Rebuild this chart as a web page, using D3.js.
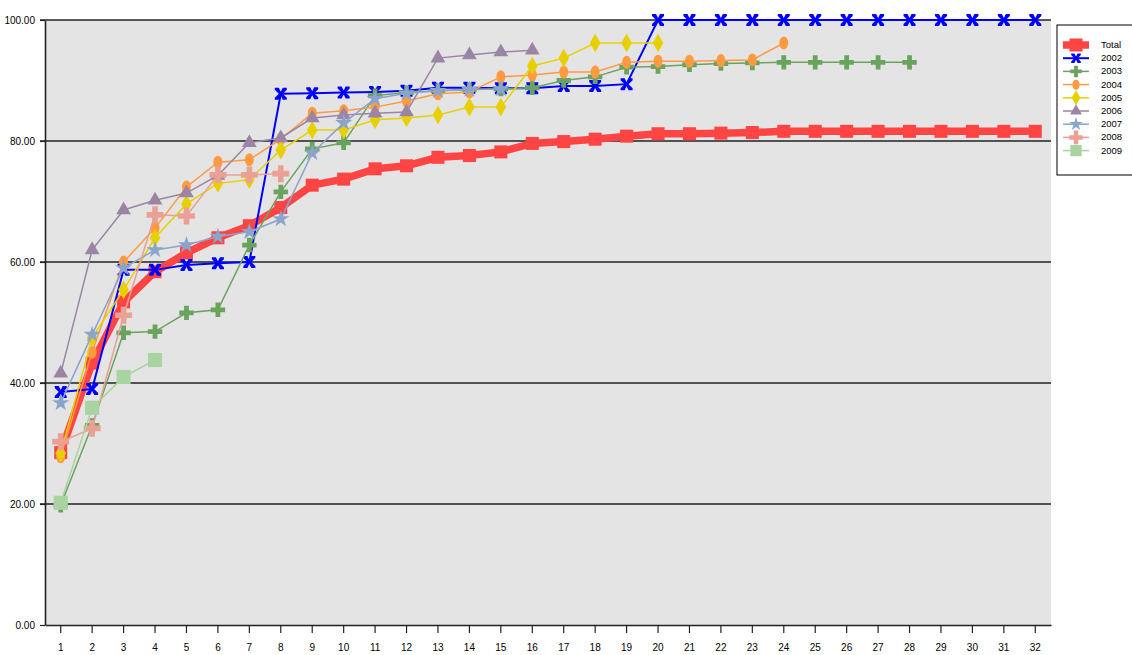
<!DOCTYPE html>
<html>
<head>
<meta charset="utf-8">
<script src="https://cdn.jsdelivr.net/npm/d3@7"></script>
<style>
  body { margin: 0; background: #fff; }
  text { font-family: "Liberation Sans Narrow", "Arial Narrow", "Liberation Sans", sans-serif; fill: #000; }
  .grid line { stroke: #222; stroke-width: 1.6px; }
</style>
</head>
<body>
<svg width="1132" height="655"></svg>
<script>
var categories = d3.range(1, 33)
var yTicks = [0, 20, 40, 60, 80, 100]

var total = [28.5, 43.3, 53.4, 58.4, 61.5, 64, 66, 69, 72.7, 73.7, 75.4, 75.9, 77.3, 77.6, 78.2, 79.6,
  79.9, 80.3, 80.8, 81.2, 81.2, 81.3, 81.4, 81.6, 81.6, 81.6, 81.6, 81.6, 81.6, 81.6, 81.6, 81.6]
var y2002 = [38.5, 39, 58.7, 58.7, 59.5, 59.8, 60, 87.8, 87.9, 88, 88.1, 88.3, 88.8, 88.8, 88.7, 88.7,
  89.1, 89.1, 89.4, 100, 100, 100, 100, 100, 100, 100, 100, 100, 100, 100, 100, 100]
var y2003 = [19.8, 33, 48.3, 48.5, 51.6, 52.1, 62.8, 71.6, 78.7, 79.7, 87.5, 88, 88.3, 88.5, 88.6, 88.8,
  90, 90.6, 92.2, 92.3, 92.6, 92.8, 92.9, 93, 93, 93, 93, 93]
var y2004 = [27.8, 45.1, 60, 65.6, 72.4, 76.5, 76.9, 80.3, 84.6, 85, 85.6, 86.6, 87.8, 88.1, 90.6, 90.9,
  91.4, 91.4, 93, 93.2, 93.2, 93.3, 93.4, 96.2]
var y2005 = [28.4, 47.5, 55.4, 64, 69.6, 73, 73.6, 78.5, 81.8, 81.8, 83.5, 83.8, 84.3, 85.6, 85.6, 92.4,
  93.7, 96.2, 96.2, 96.2]
var y2006 = [41.6, 62, 68.6, 70.2, 71.4, 74.3, 79.7, 80.5, 83.8, 84.3, 84.6, 84.8, 93.7, 94.2, 94.7, 95]
var y2007 = [36.7, 48, 59, 62, 62.8, 64.2, 65, 67.1, 78, 83, 87, 87.9, 88.3, 88.5, 88.6]
var y2008 = [30.3, 32.5, 51.2, 67.8, 67.6, 74.4, 74.4, 74.6]
var y2009 = [20.2, 35.9, 41, 43.8]

var series = [
  { name: 'Total', values: total, color: '#ff4444', width: 7.5, symbol: d3.symbolSquare, size: 170 },
  { name: '2002', values: y2002, color: '#0000ff', width: 2, symbol: 'x', size: 110 },
  { name: '2003', values: y2003, color: '#6aa35e', width: 1.5, symbol: d3.symbolCross, size: 115 },
  { name: '2004', values: y2004, color: '#ff9a40', width: 1.5, symbol: 'ellipse', size: 0 },
  { name: '2005', values: y2005, color: '#e8d000', width: 1.5, symbol: d3.symbolDiamond, size: 100 },
  { name: '2006', values: y2006, color: '#9a86a4', width: 1.5, symbol: d3.symbolTriangle, size: 95 },
  { name: '2007', values: y2007, color: '#8aa4cc', width: 1.5, symbol: d3.symbolStar, size: 90 },
  { name: '2008', values: y2008, color: '#eaa094', width: 1.5, symbol: d3.symbolCross, size: 160 },
  { name: '2009', values: y2009, color: '#a9d3a0', width: 1.5, symbol: d3.symbolSquare, size: 200 }
]

var svg = d3.select('svg')
var plotLeft = 45, plotRight = 1051, plotTop = 20, plotBottom = 625

var x = d3.scaleBand().domain(categories).range([plotLeft, plotRight])
var y = d3.scaleLinear().domain([0, 100]).range([plotBottom, plotTop])

// plot background
svg.append('rect')
  .attr('x', plotLeft).attr('y', plotTop)
  .attr('width', plotRight - plotLeft).attr('height', plotBottom - plotTop)
  .attr('fill', '#e4e4e4')

// gridlines
svg.append('g').attr('class', 'grid')
  .selectAll('line')
  .data(yTicks.filter(function(d) { return d > 0 }))
  .enter().append('line')
  .attr('x1', plotLeft - 5).attr('x2', plotRight)
  .attr('y1', function(d) { return y(d) })
  .attr('y2', function(d) { return y(d) })

// axes
var yAxis = d3.axisLeft(y).tickValues(yTicks).tickSize(5).tickSizeOuter(0).tickPadding(5)
  .tickFormat(function(d) { return d3.format('.2f')(d) })
var gy = svg.append('g').attr('transform', 'translate(' + plotLeft + ',0)').call(yAxis)
gy.selectAll('text').attr('font-size', 10)

var xAxis = d3.axisBottom(x).tickSize(8).tickSizeOuter(0).tickPadding(11)
var gx = svg.append('g').attr('transform', 'translate(0,' + plotBottom + ')').call(xAxis)
gx.selectAll('text').attr('font-size', 10)

svg.selectAll('.domain').attr('stroke', '#222').attr('stroke-width', 1.6)
svg.selectAll('.tick line').attr('stroke', '#222').attr('stroke-width', 1.2)

function markerPath(s) {
  if (s.symbol === 'x') {
    // bow-tie cross like the Excel marker
    return 'M-6,-6 L-2,-6 L0,-2 L2,-6 L6,-6 L6,-4 L2,0 L6,4 L6,6 L2,6 L0,2 L-2,6 L-6,6 L-6,4 L-2,0 L-6,-4 Z'
  }
  if (s.symbol === 'ellipse') {
    return 'M0,-6.5 A4.5,6.5 0 1,1 0,6.5 A4.5,6.5 0 1,1 0,-6.5 Z'
  }
  return d3.symbol().type(s.symbol).size(s.size)()
}

var line = d3.line()
  .x(function(d, i) { return x(categories[i]) + x.bandwidth() / 2 })
  .y(function(d) { return y(d) })

var gSeries = svg.append('g').selectAll('g')
  .data(series)
  .enter().append('g')

gSeries.append('path')
  .attr('fill', 'none')
  .attr('stroke', function(s) { return s.color })
  .attr('stroke-width', function(s) { return s.width })
  .attr('d', function(s) { return line(s.values) })

gSeries.each(function(s) {
  d3.select(this).selectAll('path.mark')
    .data(s.values)
    .enter().append('path')
    .attr('class', 'mark')
    .attr('d', markerPath(s))
    .attr('fill', s.color)
    .attr('transform', function(d, i) {
      return 'translate(' + (x(categories[i]) + x.bandwidth() / 2) + ',' + y(d) + ')'
    })
})

// legend
var lg = svg.append('g').attr('transform', 'translate(1057,25)')
lg.append('rect')
  .attr('x', 0).attr('y', 0)
  .attr('width', 80).attr('height', 150)
  .attr('fill', '#fff').attr('stroke', '#000').attr('stroke-width', 1)

var item = lg.selectAll('g.item')
  .data(series)
  .enter().append('g')
  .attr('class', 'item')
  .attr('transform', function(s, i) { return 'translate(0,' + (20 + i * 13.2) + ')' })

item.append('line')
  .attr('x1', 6).attr('x2', 32)
  .attr('stroke', function(s) { return s.color })
  .attr('stroke-width', function(s) { return s.width })

item.append('path')
  .attr('d', function(s) { return markerPath(s) })
  .attr('fill', function(s) { return s.color })
  .attr('transform', function(s) {
    return 'translate(19,0) scale(' + (s.name === 'Total' ? 1 : 0.8) + ')'
  })

item.append('text')
  .attr('x', 44).attr('y', 3)
  .attr('font-size', 9.5)
  .text(function(s) { return s.name })
</script>
</body>
</html>
